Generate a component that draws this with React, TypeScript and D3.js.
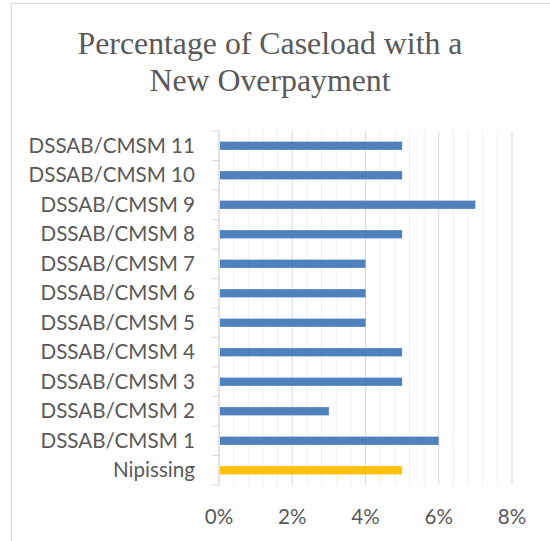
import React from "react";
import * as d3 from "d3";

const categories = [
  "Nipissing",
  "DSSAB/CMSM 1",
  "DSSAB/CMSM 2",
  "DSSAB/CMSM 3",
  "DSSAB/CMSM 4",
  "DSSAB/CMSM 5",
  "DSSAB/CMSM 6",
  "DSSAB/CMSM 7",
  "DSSAB/CMSM 8",
  "DSSAB/CMSM 9",
  "DSSAB/CMSM 10",
  "DSSAB/CMSM 11",
];
const values = [5, 6, 3, 5, 5, 4, 4, 4, 5, 7, 5, 5];
const highlight = "Nipissing";
const majorTicks = [0, 2, 4, 6, 8];
const titleLines = ["Percentage of Caseload with a", "New Overpayment"];

const W = 550;
const H = 541;
const plot = { left: 219, right: 512, top: 131, bottom: 485 };
const labelFont = "Lato, 'Open Sans', sans-serif";

export default function App() {
  const x = d3.scaleLinear().domain([0, 8]).range([plot.left, plot.right]);
  const y = d3
    .scaleBand<string>()
    .domain(categories)
    .range([plot.bottom, plot.top])
    .paddingInner(0.72)
    .paddingOuter(0.36);
  const minorTicks = d3.range(0, 8.0001, 0.4).filter((t) => Math.abs(t / 2 - Math.round(t / 2)) > 1e-6);
  const step = y.step();
  const boundaries = d3.range(categories.length + 1).map((i) => plot.bottom - i * step);

  return (
    <svg
      width={W}
      height={H}
      style={{ position: "absolute", left: 0, top: 0, background: "#fff" }}
    >
      <rect x={11.5} y={3.5} width={W + 10} height={H + 10} fill="#fff" stroke="#d9d9d9" strokeWidth={1} />
      {titleLines.map((t, i) => (
        <text
          key={t}
          x={270}
          y={54 + i * 37}
          textAnchor="middle"
          fontFamily="'Liberation Serif', serif"
          fontSize={31.8}
          fill="#595959"
        >
          {t}
        </text>
      ))}
      {minorTicks.map((t) => (
        <line key={"m" + t} x1={x(t)} x2={x(t)} y1={plot.top} y2={plot.bottom} stroke="#efefef" strokeWidth={1} />
      ))}
      {majorTicks.map((t) => (
        <line key={"M" + t} x1={x(t)} x2={x(t)} y1={plot.top} y2={plot.bottom} stroke="#d9d9d9" strokeWidth={1} />
      ))}
      {boundaries.map((b, i) => (
        <line key={"b" + i} x1={plot.left - 7} x2={plot.left} y1={b} y2={b} stroke="#d9d9d9" strokeWidth={1} />
      ))}
      <line x1={plot.left} x2={plot.left} y1={plot.top} y2={plot.bottom} stroke="#d9d9d9" strokeWidth={1} />
      {categories.map((c, i) => (
        <rect
          key={c}
          x={x(0) + 1}
          y={y(c)!}
          width={x(values[i]) - x(0) - 1}
          height={y.bandwidth()}
          fill={c === highlight ? "#ffc000" : "#4f81bd"}
        />
      ))}
      {categories.map((c) => (
        <text
          key={"l" + c}
          x={195}
          y={y(c)! + y.bandwidth() / 2}
          dy="0.35em"
          textAnchor="end"
          fontFamily={labelFont}
          fontSize={20.6}
          fill="#595959"
        >
          {c}
        </text>
      ))}
      {majorTicks.map((t) => (
        <text
          key={"t" + t}
          x={x(t)}
          y={524}
          textAnchor="middle"
          fontFamily={labelFont}
          fontSize={20.6}
          fill="#595959"
        >
          {t + "%"}
        </text>
      ))}
    </svg>
  );
}
